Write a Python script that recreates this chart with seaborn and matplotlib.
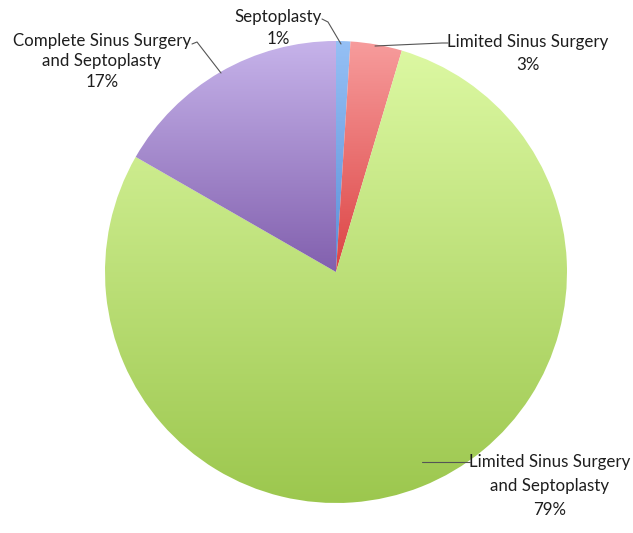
import numpy as np
import matplotlib
matplotlib.use("Agg")
import matplotlib.pyplot as plt
import seaborn as sns
from matplotlib.colors import LinearSegmentedColormap

sns.set_theme(style="white")
plt.rcParams['font.family'] = ['Lato', 'DejaVu Sans']

# Data (clockwise from top)
categories = ["Septoplasty", "Limited Sinus Surgery",
              "Limited Sinus Surgery\nand Septoplasty",
              "Complete Sinus Surgery\nand Septoplasty"]
slice_sizes = [1.0, 3.6, 78.7, 16.7]
pct_labels = ["1%", "3%", "79%", "17%"]
top_colors = ["#95c0f5", "#f79c9c", "#dcf8a2", "#c6b3ea"]
bottom_colors = ["#5b8fd8", "#dc4444", "#9cc74e", "#8260ae"]

W, H = 633, 533
fig = plt.figure(figsize=(W / 100, H / 100), dpi=100)
ax = fig.add_axes([0, 0, 1, 1])

cx, cy, r = 336, 272, 231
wedges, _ = ax.pie(slice_sizes, center=(cx, cy), radius=r, startangle=-90,
                   counterclock=True, frame=True,
                   wedgeprops=dict(linewidth=0, edgecolor="none"))
ax.set_xlim(0, W)
ax.set_ylim(H, 0)
ax.set_aspect("equal")
ax.axis("off")

grad = np.linspace(0, 1, 256).reshape(-1, 1)
for w, c0, c1 in zip(wedges, top_colors, bottom_colors):
    w.set_facecolor("none")
    verts = w.get_path().vertices
    y0, y1 = verts[:, 1].min(), verts[:, 1].max()
    cmap = LinearSegmentedColormap.from_list("g", [c0, c1])
    im = ax.imshow(grad, cmap=cmap, aspect="auto",
                   extent=(cx - r, cx + r, y1, y0), origin="upper",
                   zorder=1)
    im.set_clip_path(w)
ax.set_xlim(0, W)
ax.set_ylim(H, 0)


def label(x, ys, lines):
    for y, s in zip(ys, lines):
        ax.text(x, y, s, ha="center", va="center", fontsize=fs, color=tc)


fs = 12.2
tc = "#1e1e1e"
lc = "#555555"
# Septoplasty
label(278, [17, 39], [categories[0], pct_labels[0]])
ax.plot([322, 328, 341], [19, 22, 44], color=lc, lw=0.8, zorder=3)
# Limited Sinus Surgery
label(528, [42, 65], [categories[1], pct_labels[1]])
ax.plot([448, 442, 375], [43, 43, 46], color=lc, lw=0.8, zorder=3)
# Complete
label(102, [41, 61, 82], categories[3].split("\n") + [pct_labels[3]])
ax.plot([192, 197, 221], [44, 42, 73], color=lc, lw=0.8, zorder=3)
# Limited + Septoplasty
label(550, [462, 486, 510], categories[2].split("\n") + [pct_labels[2]])
ax.plot([470, 464, 422], [462, 462, 462], color=lc, lw=0.8, zorder=3)

fig.savefig("out.png", dpi=100, facecolor="white")
